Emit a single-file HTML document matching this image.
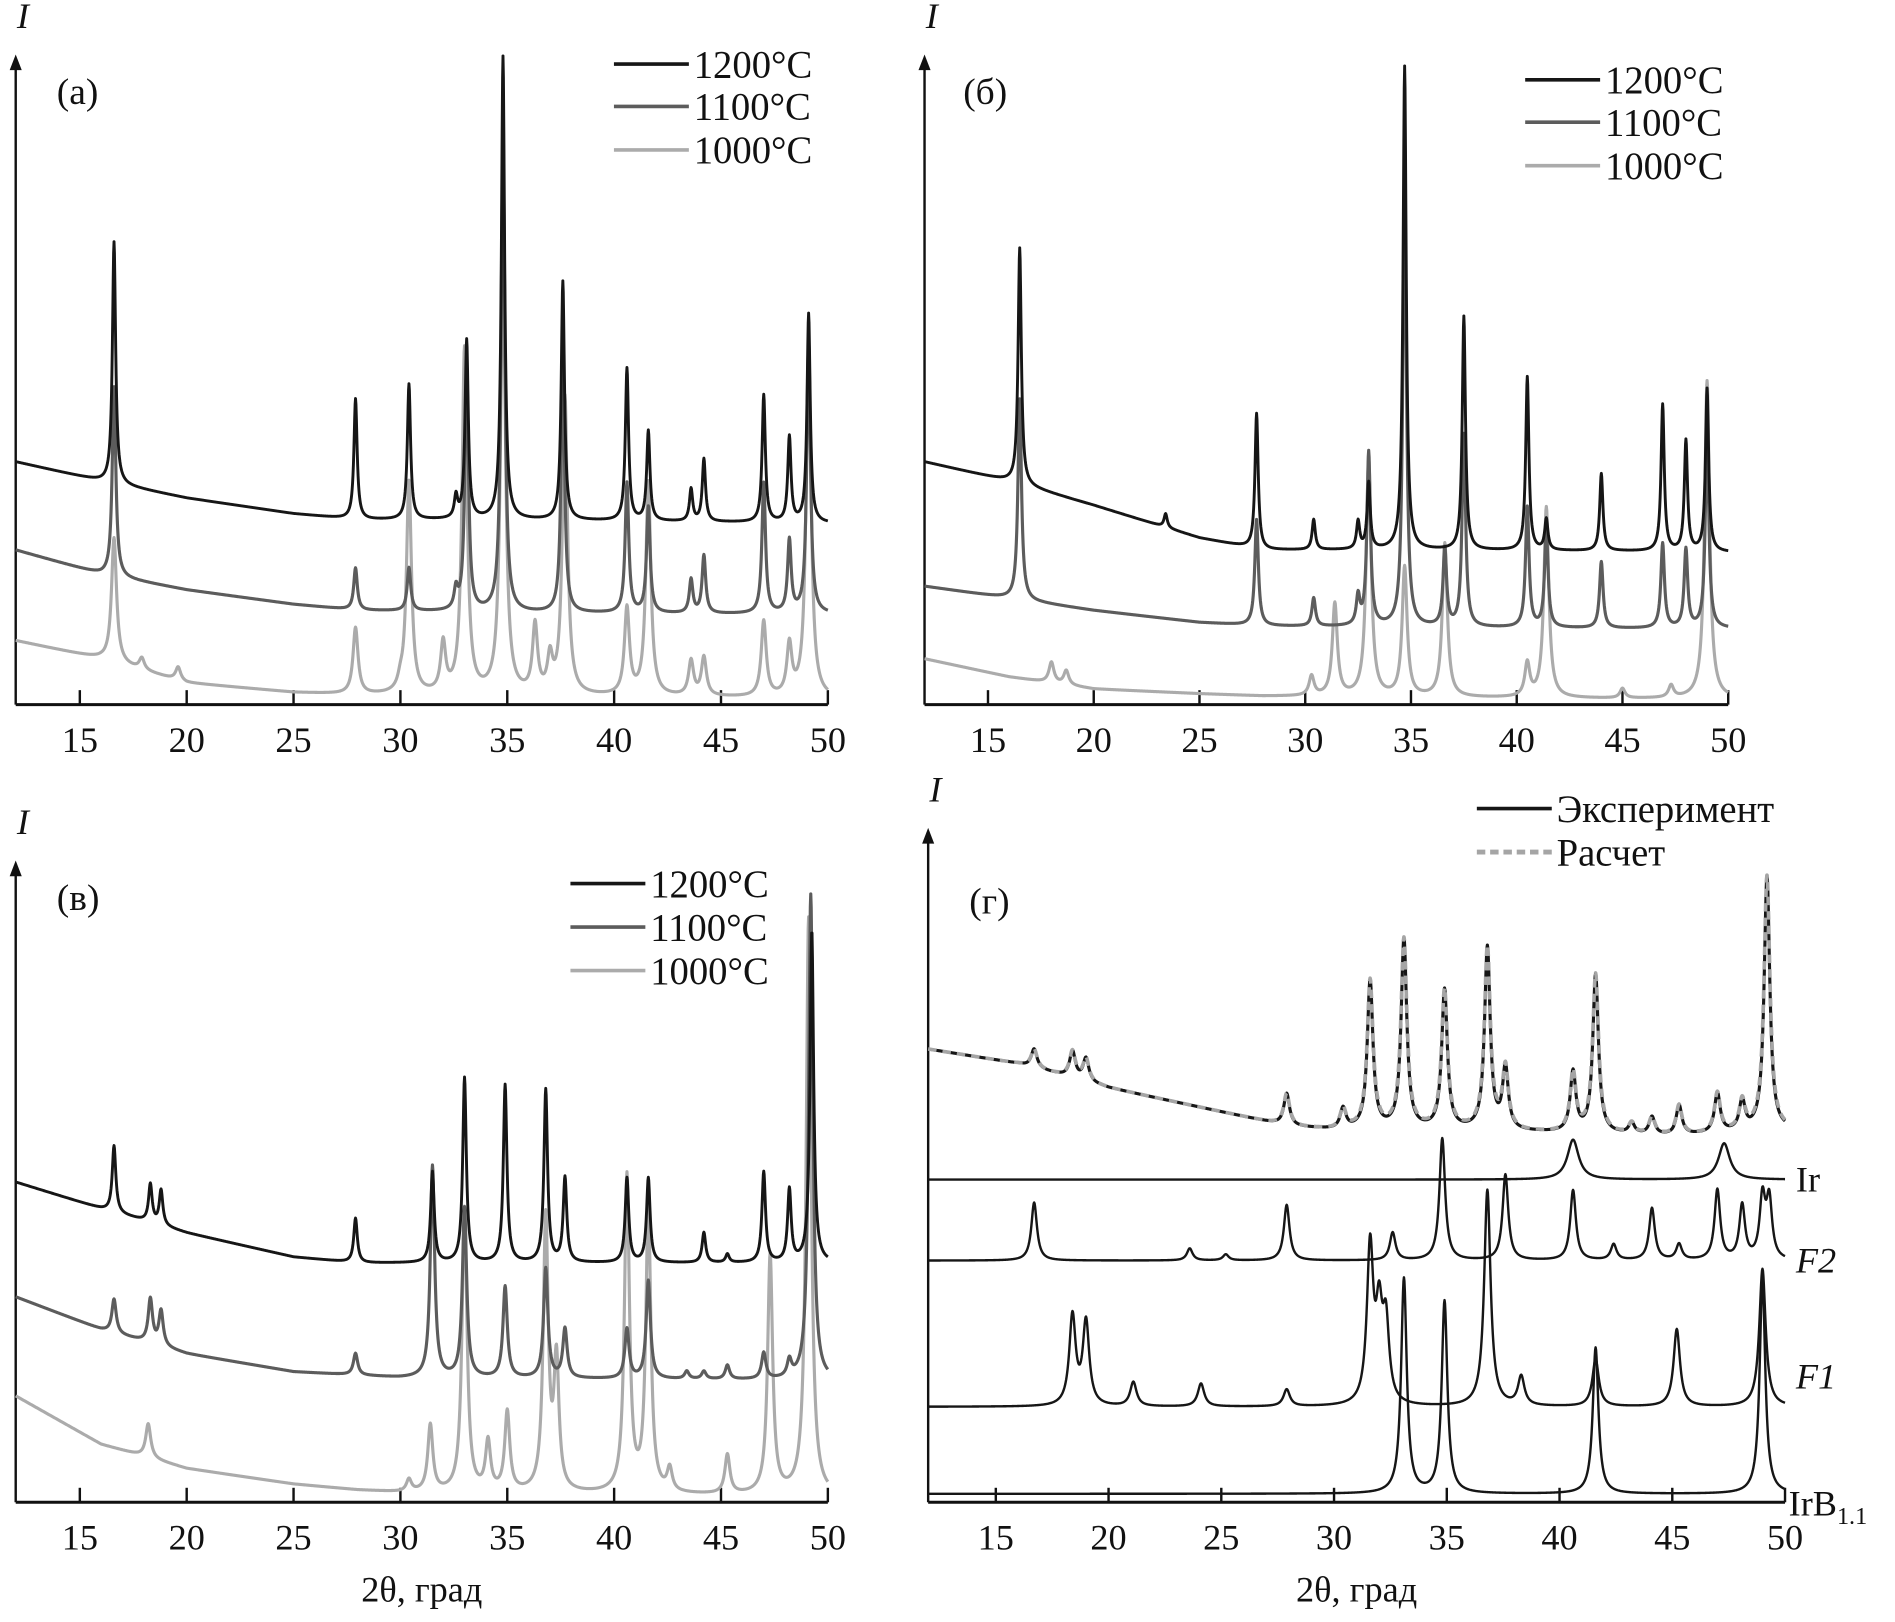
<!DOCTYPE html>
<html><head><meta charset="utf-8"><style>
html,body{margin:0;padding:0;background:#fff;}
svg{display:block;}
text{font-family:"Liberation Serif","DejaVu Serif",serif;fill:#111;}
</style></head><body>
<svg id="fig" width="1895" height="1622" viewBox="0 0 1568 1342" xmlns="http://www.w3.org/2000/svg"></svg>
<script>
// ---- data: 2θ tick labels ----
const tickLabels=[15,20,25,30,35,40,45,50];
// ---- panel (a) ----
const aBaseX=[12,16,20,25,28,35,45,50];
const a1200Base=[382,398,412,425,430,430,432,433];
const a1200Pos=[16.6,27.9,30.4,32.6,33.1,34.8,37.6,40.6,41.6,43.6,44.2,47.0,48.2,49.1];
const a1200Top=[200,330,318,412,282,47,233,305,357,405,380,327,362,260];
const a1100Base=[455,475,488,500,505,507,508,508];
const a1100Pos=[16.6,27.9,30.4,32.6,33.1,34.8,37.6,40.6,41.6,43.6,44.2,47.0,48.2,49.1];
const a1100Top=[320,470,470,490,300,100,300,400,420,480,460,400,448,280];
const a1000Base=[530,545,565,573,575,576,577,578];
const a1000Pos=[16.6,17.9,19.6,27.9,30.0,30.4,32.0,33.0,34.8,36.3,37.0,37.7,40.6,41.6,43.6,44.2,47.0,48.2,49.1];
const a1000Top=[445,545,552,520,568,400,535,290,220,520,548,330,505,400,548,545,515,536,285];
// ---- panel (б) ----
const bBaseX=[12,16,20,25,28,35,45,50];
const b1200Base=[382,398,418,445,455,455,456,457];
const b1200Pos=[16.5,23.4,27.7,30.4,32.5,33.0,34.7,37.5,40.5,41.4,44.0,46.9,48.0,49.0];
const b1200Top=[205,425,342,430,432,400,55,262,312,430,392,335,365,322];
const b1100Base=[485,495,505,515,518,519,520,520];
const b1100Pos=[16.5,27.7,30.4,32.5,33.0,34.7,36.6,37.5,40.5,41.4,44.0,46.9,48.0,49.0];
const b1100Top=[330,430,495,495,375,150,455,360,420,440,465,450,455,360];
const b1000Base=[545,560,570,574,576,577,578,578];
const b1000Pos=[18.0,18.7,30.3,31.4,33.0,34.7,36.6,40.5,41.4,45.0,47.3,49.0];
const b1000Top=[548,555,560,500,380,470,450,550,420,570,568,315];
// ---- panel (в) ----
const cBaseX=[12,16,20,25,28,30,50];
const c1200Base=[978,1000,1020,1040,1045,1045,1045];
const c1200Pos=[16.6,18.3,18.8,27.9,31.5,33.0,34.9,36.8,37.7,40.6,41.6,44.2,45.3,47.0,48.2,49.25];
const c1200Top=[948,980,985,1008,970,892,898,902,975,975,975,1020,1038,970,985,770];
const c1100Base=[1073,1100,1120,1135,1138,1140,1142];
const c1100Pos=[16.6,18.3,18.8,27.9,31.5,33.0,34.9,36.8,37.7,40.6,41.6,43.4,44.2,45.3,47.0,48.2,49.2];
const c1100Top=[1075,1075,1085,1120,965,1000,1065,1050,1100,1100,1060,1135,1135,1130,1120,1128,740];
const c1000Base=[1155,1195,1215,1228,1233,1235,1238];
const c1000Pos=[18.2,30.4,31.4,33.0,34.1,35.0,36.8,37.3,40.6,41.6,42.6,45.3,47.3,49.1];
const c1000Top=[1178,1225,1180,1000,1195,1170,1010,1130,975,1000,1218,1205,1040,760];
// ---- panel (г) ----
const dBaseX=[12,16,20,25,28,30,35,45,50];
const dExpBase=[868,880,900,920,932,935,935,940,935];
const dExpPos=[16.7,18.4,19.0,27.9,30.4,31.6,33.1,34.9,36.8,37.6,40.6,41.6,43.2,44.1,45.3,47.0,48.1,49.2];
const dExpTop=[868,870,876,905,918,812,778,820,785,885,888,807,930,925,915,905,912,725];
const dIrBase=[976,976,976,976,976,976,976,976,976];
const dIrPos=[40.6,47.3];
const dIrTop=[943,946];
const dF2Base=[1043,1043,1043,1043,1043,1043,1043,1043,1043];
const dF2Pos=[16.7,23.6,25.2,27.9,32.6,34.8,37.6,40.6,42.4,44.1,45.3,47.0,48.1,49.0,49.3];
const dF2Top=[995,1033,1038,997,1020,942,972,985,1030,1000,1030,985,998,993,995];
const dF1Base=[1164,1164,1164,1164,1164,1164,1164,1164,1164];
const dF1Pos=[18.4,19.0,21.1,24.1,27.9,31.6,32.0,32.3,36.8,38.3,41.6,45.2,49.0];
const dF1Top=[1090,1095,1144,1145,1150,1035,1095,1100,985,1140,1125,1100,1050];
const dIrBBase=[1236,1236,1236,1236,1236,1236,1236,1236,1236];
const dIrBPos=[33.1,34.9,41.6,49.0];
const dIrBTop=[1058,1077,1115,1058];

const NS="http://www.w3.org/2000/svg";
const svg=document.getElementById('fig');
function mk(tag,attrs,parent){const e=document.createElementNS(NS,tag);for(const k in attrs)e.setAttribute(k,attrs[k]);(parent||svg).appendChild(e);return e;}
function interp(xs,ys,x){if(x<=xs[0])return ys[0];for(let i=1;i<xs.length;i++){if(x<=xs[i]){const t=(x-xs[i-1])/(xs[i]-xs[i-1]);return ys[i-1]+t*(ys[i]-ys[i-1]);}}return ys[ys.length-1];}
function makeX(left,right){return v=>left+(v-12)*(right-left)/38;}

function trace(g,xf,baseX,base,pos,top,w,color,sw,name,dash){
  const amp=pos.map((p,i)=>interp(baseX,base,p)-top[i]);
  let d='';
  for(let v=12;v<=50.0001;v+=0.02){
    let y=interp(baseX,base,v);
    for(let i=0;i<pos.length;i++){const z=(v-pos[i])/w;y-=amp[i]/(1+z*z);}
    d+=(d?'L':'M')+xf(v).toFixed(2)+','+y.toFixed(2);
  }
  const p=mk('path',{d:d,fill:'none',stroke:color,'stroke-width':sw,'stroke-linejoin':'round'},g);
  if(dash)p.setAttribute('stroke-dasharray',dash);
  
  
}

function axes(g,left,right,bottom,top,title){
  const xf=makeX(left,right);
  const ax=mk('line',{x1:left,y1:bottom,x2:right,y2:bottom,stroke:'#111','stroke-width':2.5},g);
  
  
  const ay=mk('line',{x1:left,y1:bottom,x2:left,y2:top+10,stroke:'#111','stroke-width':2},g);
  
  
  const ar=mk('path',{d:`M${left-5},${top+13}L${left},${top}L${left+5},${top+13}Z`,fill:'#111'},g);
  
  
  tickLabels.forEach(t=>{
    const x=xf(t);
    const tk=mk('line',{x1:x,y1:bottom,x2:x,y2:bottom-12,stroke:'#111','stroke-width':2},g);
    
    
    const tl=mk('text',{x:x,y:bottom+39,'text-anchor':'middle','font-size':30},g);
    tl.textContent=t;
    
    
  });
  const yl=mk('text',{x:left+6,y:top-22,'text-anchor':'middle','font-size':30,'font-style':'italic'},g);
  yl.textContent='I';
  
  
  if(title){const xt=mk('text',{x:(left+right)/2,y:bottom+82,'text-anchor':'middle','font-size':30},g);
    xt.textContent='2θ, град';
    
    }
  return xf;
}
function label(g,x,y,txt,name,size,italic){const t=mk('text',{x:x,y:y,'font-size':size||30},g);if(italic)t.setAttribute('font-style','italic');t.textContent=txt;return t;}
function legend(g,x,y,color,txt,dash){
  const l=mk('line',{x1:x,y1:y,x2:x+62,y2:y,stroke:color,'stroke-width':dash?4:3},g);
  if(dash)l.setAttribute('stroke-dasharray',dash);
  
  
  label(g,x+66,y+11,txt,'legend-entry',32);
}
const C1='#161616',C2='#5c5c5c',C3='#ababab';

// Panel a
let g=mk('g',{});
let xf=axes(g,13,685,583,45,false);
trace(g,xf,aBaseX,a1000Base,a1000Pos,a1000Top,0.14,C3,2.6,'series-1000c');
trace(g,xf,aBaseX,a1100Base,a1100Pos,a1100Top,0.1,C2,2.6,'series-1100c');
trace(g,xf,aBaseX,a1200Base,a1200Pos,a1200Top,0.09,C1,2.4,'series-1200c');
label(g,47,86,'(а)','panel-label',31);
legend(g,508,53,C1,'1200°C');legend(g,508,88,C2,'1100°C');legend(g,508,124,C3,'1000°C');

// Panel b
g=mk('g',{});
xf=axes(g,765,1430,583,45,false);
trace(g,xf,bBaseX,b1000Base,b1000Pos,b1000Top,0.14,C3,2.6,'series-1000c');
trace(g,xf,bBaseX,b1100Base,b1100Pos,b1100Top,0.1,C2,2.6,'series-1100c');
trace(g,xf,bBaseX,b1200Base,b1200Pos,b1200Top,0.09,C1,2.4,'series-1200c');
label(g,797,86,'(б)','panel-label',31);
legend(g,1262,66,C1,'1200°C');legend(g,1262,101,C2,'1100°C');legend(g,1262,137,C3,'1000°C');

// Panel c
g=mk('g',{});
xf=axes(g,13,685,1243,712,true);
trace(g,xf,cBaseX,c1000Base,c1000Pos,c1000Top,0.14,C3,2.6,'series-1000c');
trace(g,xf,cBaseX,c1100Base,c1100Pos,c1100Top,0.12,C2,2.6,'series-1100c');
trace(g,xf,cBaseX,c1200Base,c1200Pos,c1200Top,0.1,C1,2.4,'series-1200c');
label(g,47,753,'(в)','panel-label',31);
legend(g,472,731,C1,'1200°C');legend(g,472,767,C2,'1100°C');legend(g,472,803,C3,'1000°C');

// Panel d
g=mk('g',{});
xf=axes(g,768,1477,1243,685,true);
trace(g,xf,dBaseX,dIrBBase,dIrBPos,dIrBTop,0.15,C1,2,'series-irb');
trace(g,xf,dBaseX,dF1Base,dF1Pos,dF1Top,0.17,C1,2,'series-f1');
trace(g,xf,dBaseX,dF2Base,dF2Pos,dF2Top,0.15,C1,2,'series-f2');
trace(g,xf,dBaseX,dIrBase,dIrPos,dIrTop,0.3,C1,2,'series-ir');
trace(g,xf,dBaseX,dExpBase,dExpPos,dExpTop,0.15,C1,2.6,'series-experiment');
trace(g,xf,dBaseX,dExpBase,dExpPos,dExpTop,0.16,'#a5a5a5',3,'series-calculation','7,5');
label(g,802,756,'(г)','panel-label',31);
legend(g,1222,669,C1,'Эксперимент');legend(g,1222,705,'#a5a5a5','Расчет','7,4');
label(g,1486,986,'Ir','label-ir',30);
label(g,1486,1053,'F2','label-f2',30,true);
label(g,1486,1149,'F1','label-f1',30,true);
const ib=label(g,1480,1254,'IrB','label-irb',30);
const sub=mk('tspan',{'font-size':20,dy:7},ib);sub.textContent='1.1';
</script>
</body></html>
